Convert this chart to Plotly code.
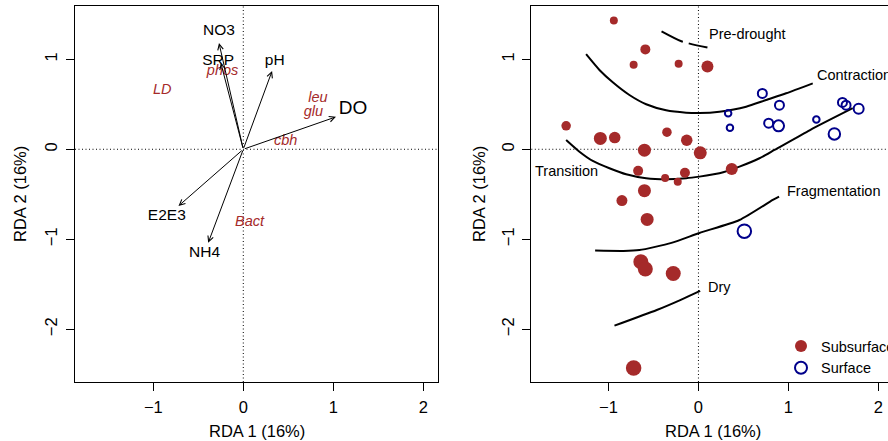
import plotly.graph_objects as go

# ---------------- data ----------------
# Left panel: environmental vectors (arrow tips) and their label positions
env_names = ["NO3", "SRP", "pH", "DO", "E2E3", "NH4"]
env_x = [-0.27, -0.25, 0.32, 1.03, -0.72, -0.39]
env_y = [1.18, 0.96, 0.87, 0.36, -0.63, -1.04]
env_lab_x = [-0.27, -0.28, 0.35, 1.22, -0.85, -0.43]
env_lab_y = [1.31, 0.98, 0.98, 0.44, -0.74, -1.15]
env_lab_size = [15.5, 15.5, 15.5, 19, 15.5, 15.5]

# Left panel: response variables (red italic)
resp_names = ["LD", "phos", "leu", "glu", "cbh", "Bact"]
resp_x = [-0.90, -0.23, 0.83, 0.78, 0.47, 0.07]
resp_y = [0.65, 0.87, 0.57, 0.41, 0.09, -0.81]

# Right panel: site scores
sub_x = [-0.94, -0.59, -0.72, -0.22, 0.10, -1.47, -1.09, -0.93, -0.35, -0.13, -0.60, 0.02,
         -0.67, -0.37, -0.23, -0.15, 0.37, -0.60, -0.85, -0.57, -0.64, -0.59, -0.28, -0.72]
sub_y = [1.43, 1.11, 0.94, 0.95, 0.92, 0.26, 0.12, 0.13, 0.19, 0.10, -0.01, -0.04,
         -0.24, -0.32, -0.36, -0.26, -0.22, -0.46, -0.57, -0.78, -1.25, -1.33, -1.38, -2.43]
sub_size = [8, 10, 8, 8, 12, 9.5, 13, 11.5, 9.5, 11.5, 13, 13,
            10, 8, 8, 10, 12, 13, 11, 13, 15, 15, 15, 15.5]

surf_x = [0.71, 0.33, 0.35, 0.90, 0.78, 0.89, 1.31, 1.60, 1.64, 1.78, 1.51, 0.51]
surf_y = [0.62, 0.40, 0.24, 0.49, 0.29, 0.26, 0.33, 0.52, 0.49, 0.45, 0.17, -0.91]
surf_size = [9, 6.5, 6.5, 9, 9, 11, 6.5, 9, 9, 10, 11.5, 13.5]

# Right panel: hydrological phase curves
curve_names = ["Pre-drought", "Contraction", "Transition", "Fragmentation", "Dry"]
curve_x = [
    [-0.41, -0.19, 0.10],
    [-1.248, -1.100, -0.952, -0.767, -0.581, -0.359, -0.137, 0.011, 0.233, 0.530, 0.752, 0.974, 1.270],
    [-1.470, -1.322, -1.174, -0.989, -0.803, -0.581, -0.359, -0.137, 0.011, 0.233, 0.456, 0.678,
     0.844, 1.24, 1.714],
    [-1.148, -0.833, -0.656, -0.30, 0.011, 0.456, 0.826, 0.896],
    [-0.933, -0.463, -0.19, 0.019],
]
curve_y = [
    [1.31, 1.20, 1.13],
    [1.056, 0.881, 0.744, 0.603, 0.500, 0.433, 0.407, 0.403, 0.418, 0.473, 0.548, 0.622, 0.733],
    [0.103, -0.027, -0.130, -0.211, -0.278, -0.322, -0.333, -0.322, -0.304, -0.267, -0.193, -0.100,
     -0.008, 0.214, 0.456],
    [-1.126, -1.13, -1.12, -1.04, -0.93, -0.786, -0.563, -0.526],
    [-1.96, -1.786, -1.67, -1.574],
]
curve_dash = ["24px,6px", "solid", "solid", "solid", "solid"]
curve_lab_x = [0.10, 1.29, -1.47, 0.96, 0.08]
curve_lab_y = [1.28, 0.83, -0.24, -0.46, -1.53]
curve_lab_anchor = ["left", "left", "center", "left", "left"]

x_ticks = [-1, 0, 1, 2]
y_ticks = [-2, -1, 0, 1]
axis_title_x = "RDA 1 (16%)"
axis_title_y = "RDA 2 (16%)"

BROWN = "#a52a2a"
BLUE = "#00008b"
FONT = "Liberation Sans, Arial, sans-serif"

# ---------------- figure ----------------
fig = go.Figure()

# Left panel labels
fig.add_trace(go.Scatter(
    x=env_lab_x, y=env_lab_y, mode="text", text=env_names,
    textfont=dict(family=FONT, size=env_lab_size, color="black"),
    textposition="middle center", showlegend=False, hoverinfo="skip",
    xaxis="x", yaxis="y"))
fig.add_trace(go.Scatter(
    x=resp_x, y=resp_y, mode="text", text=resp_names,
    textfont=dict(family=FONT, size=14.5, color=BROWN, style="italic"),
    textposition="middle center", showlegend=False, hoverinfo="skip",
    xaxis="x", yaxis="y"))

# arrows
for nx, ny in zip(env_x, env_y):
    fig.add_annotation(x=nx, y=ny, ax=0, ay=0, xref="x", yref="y",
                       axref="x", ayref="y", showarrow=True, arrowhead=5,
                       arrowsize=1.1, arrowwidth=1, arrowcolor="black", text="")

# Right panel curves
for cx, cy, dash in zip(curve_x, curve_y, curve_dash):
    fig.add_trace(go.Scatter(
        x=cx, y=cy, mode="lines",
        line=dict(color="black", width=2, dash=dash, shape="spline", smoothing=0.6),
        showlegend=False, hoverinfo="skip", xaxis="x2", yaxis="y2"))
for name, lx, ly, anc in zip(curve_names, curve_lab_x, curve_lab_y, curve_lab_anchor):
    fig.add_annotation(x=lx, y=ly, xref="x2", yref="y2", text=name, showarrow=False,
                       xanchor=anc, yanchor="middle",
                       font=dict(family=FONT, size=14.5, color="black"))

# Right panel points
fig.add_trace(go.Scatter(
    x=sub_x, y=sub_y, mode="markers", name="Subsurface",
    marker=dict(color=BROWN, size=sub_size, opacity=1, line=dict(width=0)),
    xaxis="x2", yaxis="y2"))
fig.add_trace(go.Scatter(
    x=surf_x, y=surf_y, mode="markers", name="Surface",
    marker=dict(color=BLUE, size=surf_size, opacity=1, symbol="circle-open",
                line=dict(width=2, color=BLUE)),
    xaxis="x2", yaxis="y2"))

# reference dotted lines
for xr, yr in [("x", "y"), ("x2", "y2")]:
    fig.add_shape(type="line", xref=xr, yref=f"{yr} domain", x0=0, x1=0, y0=0, y1=1,
                  line=dict(color="black", width=1, dash="1px,2.5px"), layer="below")
    fig.add_shape(type="line", xref=f"{xr} domain", yref=yr, x0=0, x1=1, y0=0, y1=0,
                  line=dict(color="black", width=1, dash="1px,2.5px"), layer="below")

W, H = 888, 441
ydom = [(H - 382) / H, (H - 6) / H]
common_axis = dict(showgrid=False, zeroline=False, showline=True, linecolor="black",
                   linewidth=1, ticks="outside", ticklen=8, tickcolor="black",
                   tickfont=dict(family=FONT, size=16.5, color="black"),
                   ticklabelstandoff=2)

fig.update_layout(
    height=H, autosize=True, margin=dict(l=0, r=0, t=0, b=0, autoexpand=False),
    paper_bgcolor="white", plot_bgcolor="white",
    font=dict(family=FONT, color="black"),
    xaxis=dict(domain=[75 / W, 438.3 / W], range=[-1.87, 2.167], tickvals=x_ticks,
               mirror=True, anchor="y", **common_axis),
    yaxis=dict(domain=ydom, range=[-2.586, 1.592], tickvals=y_ticks, tickangle=-90,
               mirror=True, anchor="x", **common_axis),
    xaxis2=dict(domain=[531.3 / W, 1.0], range=[-1.857, 2.106], tickvals=x_ticks,
                mirror=True, anchor="y2", **common_axis),
    yaxis2=dict(domain=ydom, range=[-2.586, 1.592], tickvals=y_ticks, tickangle=-90,
                mirror=False, anchor="x2", **common_axis),
    legend=dict(x=781 / W, y=(H - 330) / H, xanchor="left", yanchor="top",
                bgcolor="rgba(0,0,0,0)", font=dict(family=FONT, size=14.5),
                tracegroupgap=0, itemsizing="constant"),
)

# axis titles
for cx in [(75 + 438.3) / 2 / W, (531.3 + 894) / 2 / W]:
    fig.add_annotation(x=cx, y=(H - 431) / H, xref="paper", yref="paper", text=axis_title_x,
                       showarrow=False, xanchor="center", yanchor="middle",
                       font=dict(family=FONT, size=16.5, color="black"))
for cx in [20 / W, 479 / W]:
    fig.add_annotation(x=cx, y=(H - 194) / H, xref="paper", yref="paper", text=axis_title_y,
                       showarrow=False, xanchor="center", yanchor="middle", textangle=-90,
                       font=dict(family=FONT, size=16.5, color="black"))

fig.write_html("out.html",
               config={"displayModeBar": False, "responsive": True},
               default_width="100%", default_height="441px",
               post_script="document.body.style.margin='0px';document.body.style.padding='0px';"
                           "document.documentElement.style.overflow='hidden';"
                           "document.body.style.overflow='hidden';"
                           "Plotly.Plots.resize(document.getElementsByClassName('plotly-graph-div')[0]);")
